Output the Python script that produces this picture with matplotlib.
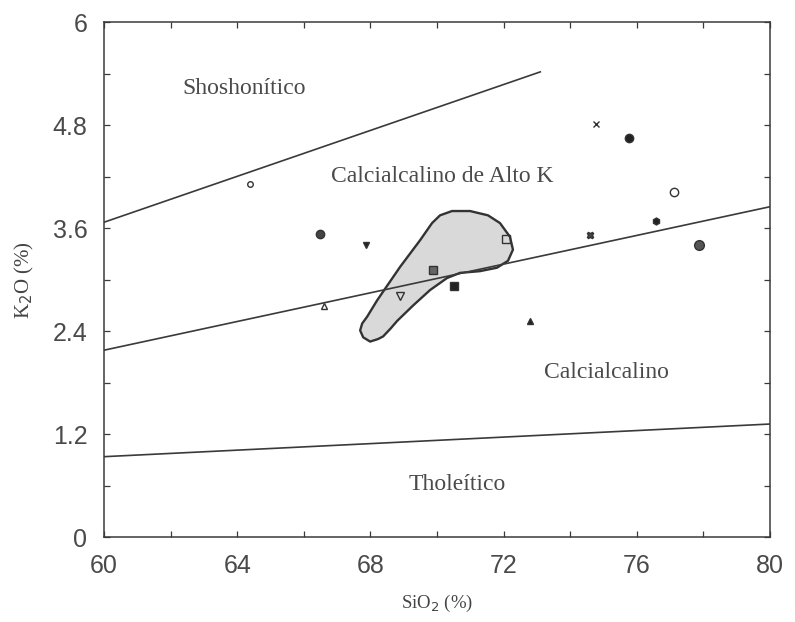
import numpy as np
import matplotlib.pyplot as plt
from matplotlib.ticker import MultipleLocator, FixedLocator, FixedFormatter

# boundary lines of the K2O vs SiO2 diagram
shosh_x = [60.0, 73.1]
shosh_y = [3.67, 5.42]
highk_x = [60.0, 80.0]
highk_y = [2.18, 3.85]
thol_x = [60.0, 80.0]
thol_y = [0.94, 1.32]

# field of shaded samples
field_x = [67.69, 67.78, 67.99, 68.23, 68.38, 68.60, 68.80, 69.28, 69.79, 70.30, 70.69, 71.29,
           71.80, 72.13, 72.28, 72.19, 71.89, 71.53, 70.99, 70.45, 70.09, 69.85, 69.49,
           68.89, 68.20, 67.90, 67.75]
field_y = [2.41, 2.33, 2.28, 2.31, 2.34, 2.43, 2.52, 2.70, 2.88, 3.02, 3.08, 3.10,
           3.14, 3.22, 3.35, 3.50, 3.66, 3.75, 3.80, 3.80, 3.75, 3.66, 3.46,
           3.15, 2.76, 2.57, 2.49]

# samples
sio2 = [64.38, 66.48, 67.88, 66.6, 68.9, 69.88, 70.52, 72.08, 72.78, 74.78, 75.78, 77.13, 76.58, 74.58, 77.88]
k2o = [4.11, 3.53, 3.41, 2.70, 2.81, 3.11, 2.93, 3.48, 2.52, 4.81, 4.65, 4.02, 3.68, 3.52, 3.40]
markers = ['o', 'o', 'v', '^', 'v', 's', 's', 's', '^', 'x', 'o', 'o', 'h', 'X', 'o']
faces = ['none', '#444444', '#222222', 'none', 'none', '#666666', '#222222', 'none',
         '#222222', 'none', '#222222', 'none', '#222222', '#444444', '#555555']
sizes = [4, 6, 5, 5, 6, 6, 6, 6, 5, 5, 6, 6, 5, 5, 7]

region_labels = ['Shoshonítico', 'Calcialcalino de Alto K', 'Calcialcalino', 'Tholeítico']
region_x = [64.2, 70.15, 75.1, 70.6]
region_y = [5.23, 4.20, 1.92, 0.62]

ytick_vals = [0, 1.2, 2.4, 3.6, 4.8, 6]
ytick_text = ['0', '1.2', '2.4', '3.6', '4.8', '6']
xtick_vals = [60, 64, 68, 72, 76, 80]

ink = '#3a3a3a'
fig = plt.figure(figsize=(7.95, 6.22), dpi=100)
ax = fig.add_axes([0.1310, 0.136, 0.8375, 0.8285])

ax.fill(field_x, field_y, facecolor='#d9d9d9', edgecolor='#333333', lw=1.7,
        joinstyle='round', zorder=2)
ax.plot(shosh_x, shosh_y, color=ink, lw=1.2, zorder=3)
ax.plot(highk_x, highk_y, color=ink, lw=1.2, zorder=3)
ax.plot(thol_x, thol_y, color=ink, lw=1.2, zorder=3)

for x, y, m, f, s in zip(sio2, k2o, markers, faces, sizes):
    ax.plot(x, y, marker=m, ms=s, mfc=f, mec='#333333', mew=1.0, ls='none', zorder=4)

for t, x, y in zip(region_labels, region_x, region_y):
    ax.text(x, y, t, family='Liberation Serif', fontsize=17, color='#4a4a4a',
            ha='center', va='center')

ax.set_xlim(60, 80)
ax.set_ylim(0, 6)
ax.xaxis.set_major_locator(FixedLocator(xtick_vals))
ax.xaxis.set_minor_locator(MultipleLocator(2))
ax.yaxis.set_major_locator(FixedLocator(ytick_vals))
ax.yaxis.set_major_formatter(FixedFormatter(ytick_text))
ax.yaxis.set_minor_locator(MultipleLocator(0.6))
ax.tick_params(which='both', direction='in', top=True, right=True, color=ink,
               labelcolor='#4a4a4a', labelsize=18, length=4, width=0.9)
ax.tick_params(axis='x', pad=12)
ax.tick_params(axis='y', pad=12)
for tl in ax.get_xticklabels() + ax.get_yticklabels():
    tl.set_family('Liberation Sans')
for sp in ax.spines.values():
    sp.set_color(ink)
    sp.set_linewidth(1.1)

ax.set_xlabel('SiO$_2$ (%)', family='Liberation Serif', fontsize=13.5, color='#444444', labelpad=11)
ax.set_ylabel('K$_2$O (%)', family='Liberation Serif', fontsize=15, color='#444444', labelpad=12)

fig.savefig('out.png', dpi=100)
